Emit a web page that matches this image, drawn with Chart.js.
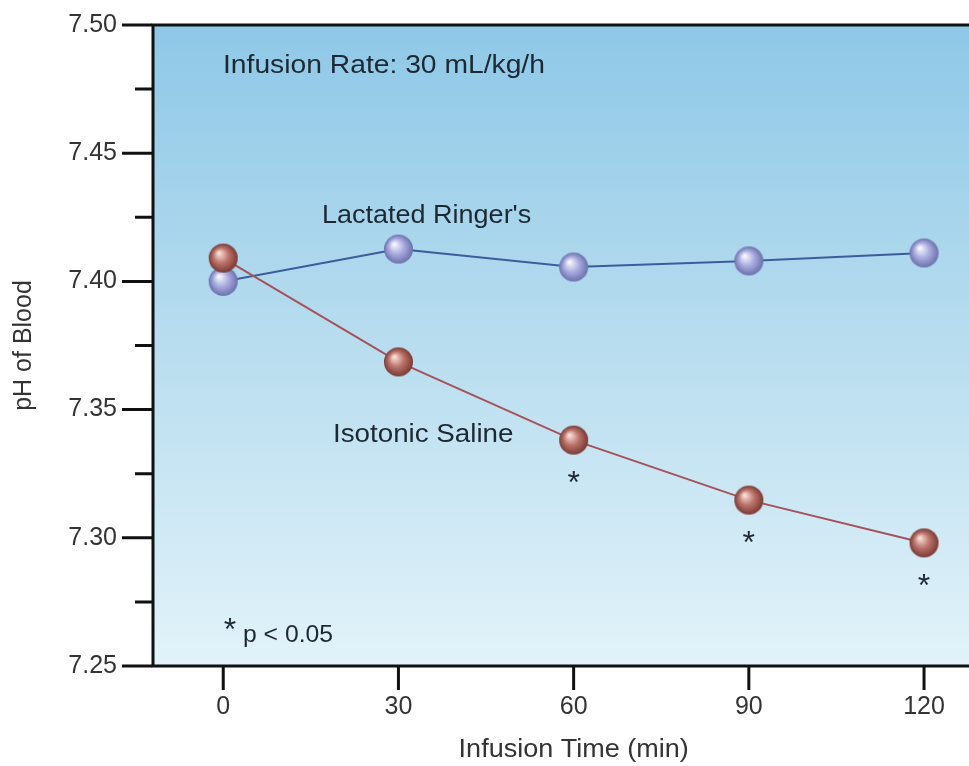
<!DOCTYPE html>
<html><head><meta charset="utf-8">
<script src="https://cdn.jsdelivr.net/npm/chart.js@4/dist/chart.umd.min.js"></script>
<style>html,body{margin:0;padding:0;background:#fff;overflow:hidden;} #wrap{width:969px;height:766px;}</style>
</head><body><div id="wrap"><canvas id="c" width="969" height="766"></canvas></div>
<script>
// ---- data ----
const infusionTimes = [0, 30, 60, 90, 120];
const lactatedRingers = [7.400, 7.4126, 7.4056, 7.408, 7.4111];
const isotonicSaline = [7.4091, 7.3686, 7.3381, 7.3147, 7.2980];
const salineSignificant = [false, false, true, true, true];
const xTickValues = [0, 30, 60, 90, 120];
const yTickValues = [7.25, 7.30, 7.35, 7.40, 7.45, 7.50];
const yMinorTickValues = [7.275, 7.325, 7.375, 7.425, 7.475];
const seriesNames = ["Isotonic Saline", "Lactated Ringer's"];
const xAxisTitle = 'Infusion Time (min)';
const yAxisTitle = 'pH of Blood';
const noteRate = 'Infusion Rate: 30 mL/kg/h';
const noteP = 'p < 0.05';

const FONT = "'Liberation Sans', Arial, Helvetica, sans-serif";

function sphere(r, light, base, dark) {
  const c = document.createElement('canvas');
  const s = Math.ceil(r * 2 + 2);
  c.width = s; c.height = s;
  const g = c.getContext('2d');
  const cx = s / 2, cy = s / 2;
  const grad = g.createRadialGradient(cx - r * 0.3, cy - r * 0.35, r * 0.05, cx, cy, r);
  grad.addColorStop(0, light);
  grad.addColorStop(0.5, base);
  grad.addColorStop(1, dark);
  g.fillStyle = grad;
  g.beginPath(); g.arc(cx, cy, r, 0, Math.PI * 2); g.fill();
  return c;
}
const blueBall = sphere(14.5, '#f8f8ff', '#a9addf', '#6c70ad');
const redBall = sphere(14.5, '#fae0d8', '#bb746b', '#7a3934');

function stretchedText(ctx, text, x, y, size, sx, align) {
  ctx.save();
  ctx.font = size + 'px ' + FONT;
  const w = ctx.measureText(text).width * sx;
  let left = x;
  if (align === 'center') left = x - w / 2;
  ctx.translate(left, y);
  ctx.scale(sx, 1);
  ctx.textAlign = 'left';
  ctx.textBaseline = 'alphabetic';
  ctx.fillText(text, 0, 0);
  ctx.restore();
}

const decor = {
  id: 'decor',
  beforeDraw(chart) {
    const { ctx, chartArea: a } = chart;
    ctx.save();
    ctx.fillStyle = '#fff';
    ctx.fillRect(0, 0, chart.width, chart.height);
    const g = ctx.createLinearGradient(0, a.top, 0, a.bottom);
    g.addColorStop(0, '#8ec8e7');
    g.addColorStop(0.5, '#b8ddef');
    g.addColorStop(1, '#e2f3fa');
    ctx.fillStyle = g;
    ctx.fillRect(a.left, a.top, a.right - a.left, a.bottom - a.top);
    ctx.restore();
  },
  beforeDatasetsDraw(chart) {
    const { ctx, chartArea: a, scales: { x, y } } = chart;
    ctx.save();
    ctx.strokeStyle = '#111';
    ctx.lineWidth = 3;
    ctx.beginPath();
    ctx.moveTo(a.right, a.top); ctx.lineTo(a.left + 1, a.top);
    ctx.lineTo(a.left + 1, a.bottom); ctx.lineTo(a.right, a.bottom);
    ctx.stroke();
    ctx.beginPath();
    yTickValues.forEach(v => { const p = y.getPixelForValue(v); ctx.moveTo(a.left - 30, p); ctx.lineTo(a.left, p); });
    yMinorTickValues.forEach(v => { const p = y.getPixelForValue(v); ctx.moveTo(a.left - 17, p); ctx.lineTo(a.left, p); });
    xTickValues.forEach(v => { const p = x.getPixelForValue(v); ctx.moveTo(p, a.bottom); ctx.lineTo(p, a.bottom + 24); });
    ctx.stroke();
    ctx.restore();
  },
  afterDatasetsDraw(chart) {
    const { ctx, chartArea: a, scales: { x, y } } = chart;
    ctx.save();
    ctx.fillStyle = '#1e2833';
    stretchedText(ctx, noteRate, a.left + 71, 73, 25, 1.13, 'left');
    stretchedText(ctx, seriesNames[1], a.left + 170, 223, 25, 1.08, 'left');
    stretchedText(ctx, seriesNames[0], a.left + 181, 442, 25, 1.11, 'left');
    // significance asterisks
    ctx.font = '32px ' + FONT;
    ctx.textAlign = 'center';
    ctx.textBaseline = 'alphabetic';
    salineSignificant.forEach((sig, i) => {
      if (!sig) return;
      const px = x.getPixelForValue(infusionTimes[i]);
      const py = y.getPixelForValue(isotonicSaline[i]);
      ctx.fillText('*', px, py + 53);
    });
    // p-value note
    ctx.fillText('*', 230, 640);
    stretchedText(ctx, noteP, 243, 642, 24, 1.03, 'left');
    // x axis title
    ctx.fillStyle = '#333';
    stretchedText(ctx, xAxisTitle, x.getPixelForValue(60), 757, 25, 1.08, 'center');
    ctx.restore();
  }
};

function zeroPad(s) { s.paddingTop = 0; s.paddingBottom = 0; s.paddingLeft = 0; s.paddingRight = 0; }

new Chart(document.getElementById('c'), {
  type: 'line',
  data: {
    datasets: [
      {
        label: seriesNames[0],
        data: infusionTimes.map((t, i) => ({ x: t, y: isotonicSaline[i] })),
        borderColor: '#a5525a', borderWidth: 2, tension: 0,
        pointStyle: redBall, pointRadius: 15
      },
      {
        label: seriesNames[1],
        data: infusionTimes.map((t, i) => ({ x: t, y: lactatedRingers[i] })),
        borderColor: '#3d5c9c', borderWidth: 2, tension: 0,
        pointStyle: blueBall, pointRadius: 15
      }
    ]
  },
  options: {
    responsive: false, animation: false, devicePixelRatio: 1,
    layout: { autoPadding: false, padding: { top: 25, right: 0, bottom: 0, left: 0 } },
    plugins: { legend: { display: false }, tooltip: { enabled: false } },
    scales: {
      x: {
        type: 'linear', min: -12.2, max: 127.7,
        grid: { display: false, drawTicks: false }, border: { display: false },
        afterBuildTicks: s => { s.ticks = xTickValues.map(v => ({ value: v })); },
        afterFit: s => { s.height = 100; zeroPad(s); },
        ticks: { font: { family: FONT, size: 25 }, color: '#333', padding: 26, maxRotation: 0, autoSkip: false,
                 callback: v => String(v) }
      },
      y: {
        type: 'linear', min: 7.25, max: 7.50,
        grid: { display: false, drawTicks: false }, border: { display: false },
        afterBuildTicks: s => { s.ticks = yTickValues.map(v => ({ value: v })); },
        afterFit: s => { s.width = 152; zeroPad(s); },
        ticks: { font: { family: FONT, size: 25 }, color: '#333', padding: 35, autoSkip: false,
                 callback: v => Number(v).toFixed(2) },
        title: { display: true, text: yAxisTitle, font: { family: FONT, size: 25 }, color: '#333',
                 padding: { top: 9, bottom: 0 } }
      }
    }
  },
  plugins: [decor]
});
</script>
</body></html>
